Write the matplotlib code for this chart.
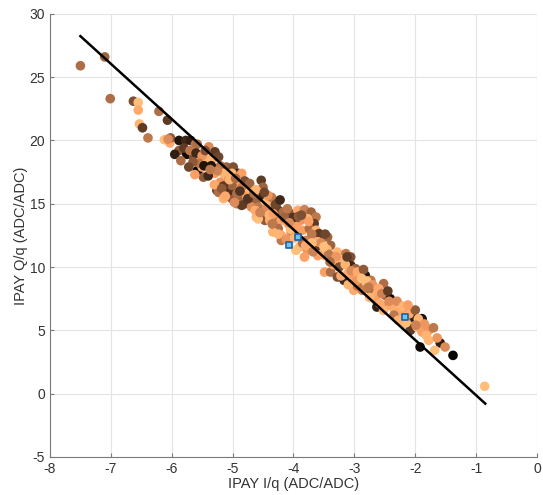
import matplotlib
matplotlib.use('Agg')
from matplotlib import pyplot as plt

plt.rcParams['font.family'] = ['Liberation Sans', 'DejaVu Sans']
plt.rcParams['axes.unicode_minus'] = False

# Puntos medidos: I/q, Q/q y valor de color (mapa copper)
pts_i = [
    -7.50, -7.10, -7.01, -6.63, -6.55, -6.55, -6.53, -6.48, -6.39, -6.21,
    -6.07, -6.12, -6.03, -6.02, -5.88, -5.77, -5.69, -5.88, -5.75, -5.64,
    -5.58, -5.61, -6.06, -5.58, -5.39, -5.29, -5.75, -5.64, -5.53, -5.42,
    -5.34, -5.23, -5.20, -5.10, -4.99, -5.57, -5.50, -5.48, -5.29, -5.15,
    -5.07, -5.20, -5.26, -5.23, -5.10, -4.99, -5.15, -5.01, -4.93, -4.91,
    -4.53, -4.50, -4.58, -4.69, -4.61, -4.50, -4.44, -4.36, -4.28, -4.74,
    -4.80, -4.69, -4.58, -4.61, -4.47, -4.39, -4.28, -4.91, -4.93, -5.04,
    -5.01, -4.85, -5.01, -4.93, -4.85, -4.77, -4.42, -4.63, -4.53, -4.36,
    -4.25, -4.17, -4.58, -4.31, -4.20, -4.04, -3.93, -3.82, -3.71, -3.63,
    -3.66, -3.77, -3.88, -3.98, -4.09, -4.25, -4.34, -4.20, -4.04, -3.85,
    -3.74, -3.63, -3.55, -3.66, -3.79, -3.90, -3.77, -3.63, -3.52, -3.96,
    -3.82, -4.20, -3.58, -3.39, -3.28, -3.14, -3.06, -3.49, -3.36, -3.20,
    -3.06, -2.98, -3.49, -3.39, -3.28, -3.17, -3.11, -3.01, -2.90, -2.82,
    -2.73, -2.84, -2.92, -2.52, -3.01, -2.87, -2.73, -2.63, -2.49, -2.41,
    -2.65, -2.63, -2.46, -2.35, -2.27, -2.16, -2.06, -1.89, -2.03, -1.78,
    -2.08, -2.52, -3.44, -3.58, -2.06, -1.89, -2.08, -1.97, -1.89, -1.78,
    -1.78, -1.59, -1.51, -1.68, -1.92, -1.38, -0.86, -2.25, -2.19,
    -5.80, -5.70, -5.60, -5.50, -5.45, -5.35, -5.25, -5.15, -5.05, -4.95,
    -5.40, -5.55, -5.65, -5.30, -4.85, -4.80, -4.70, -4.75, -4.65,
    -4.45, -4.40, -4.30, -4.15, -4.10, -4.05, -4.00, -3.95, -4.35, -4.25,
    -4.12, -3.92, -3.75, -3.70, -3.60, -3.55, -3.48, -3.45, -3.42, -3.70,
    -3.85, -3.60, -3.30, -3.35, -3.25, -3.15, -3.05, -2.95, -2.85, -2.80,
    -2.70, -2.95, -3.10, -2.60, -2.55, -2.75, -2.45, -2.40, -2.30, -2.20,
    -2.35, -2.10, -2.00, -1.95, -1.85, -2.15, -1.70,
    -5.95, -5.85, -5.72, -5.62, -5.47, -5.37, -5.18, -5.12, -4.97, -4.88,
    -4.72, -4.62, -4.55, -4.48, -4.33, -4.22, -4.07, -3.98, -3.87, -3.80,
    -3.68, -3.50, -3.40, -3.22, -3.12, -2.97, -2.88, -2.77, -2.58, -2.43,
    -2.28, -2.12, -1.99, -1.82, -1.64,
]
pts_q = [
    25.9, 26.6, 23.3, 23.1, 23.0, 22.4, 21.3, 21.0, 20.2, 22.3,
    21.6, 20.06, 19.8, 20.2, 20.0, 20.0, 20.0, 19.2, 18.9, 18.8,
    17.6, 19.7, 20.1, 19.7, 19.5, 19.1, 18.96, 18.7, 18.56, 18.5,
    18.5, 18.7, 18.0, 17.9, 17.9, 17.6, 17.9, 17.1, 17.4, 17.4,
    16.85, 16.7, 16.06, 15.9, 15.9, 15.9, 15.4, 15.4, 16.45, 17.4,
    16.85, 16.3, 15.9, 15.66, 15.27, 15.66, 15.13, 15.5, 15.0, 15.27,
    15.0, 14.74, 14.74, 13.95, 13.69, 13.69, 13.3, 15.4, 15.0, 16.06,
    17.4, 17.4, 16.45, 15.8, 14.87, 15.66, 15.66, 14.48, 14.34, 14.34,
    14.48, 14.34, 13.8, 13.69, 13.69, 14.2, 14.48, 14.53, 14.34, 13.95,
    13.43, 13.82, 13.69, 13.69, 13.43, 13.03, 12.77, 12.5, 12.77, 12.9,
    13.03, 12.9, 12.37, 12.24, 12.1, 11.58, 11.32, 11.58, 11.32, 11.32,
    10.79, 12.1, 11.71, 11.71, 11.18, 11.06, 10.79, 10.92, 10.66, 10.53,
    10.13, 9.87, 9.6, 9.6, 9.21, 8.95, 9.48, 9.21, 9.34, 9.34,
    8.95, 8.69, 8.81, 8.69, 8.16, 8.16, 8.16, 7.9, 7.76, 7.5,
    7.37, 6.84, 6.97, 6.71, 6.45, 6.58, 6.05, 5.92, 5.66, 5.13,
    5.13, 6.58, 12.37, 12.64, 6.05, 5.84, 5.0, 5.26, 4.87, 5.0,
    4.21, 4.0, 3.68, 3.42, 3.68, 3.02, 0.58, 6.45, 5.53,
    19.4, 19.2, 19.0, 18.8, 19.2, 18.0, 17.6, 16.4, 16.9, 17.0,
    17.2, 18.2, 18.3, 16.5, 16.3, 16.8, 16.0, 15.4, 15.8,
    14.6, 14.1, 14.9, 13.9, 14.6, 13.0, 13.9, 13.2, 13.4, 12.6,
    12.2, 14.0, 13.6, 12.6, 12.0, 11.9, 12.6, 11.4, 11.0, 11.9,
    11.9, 10.9, 10.8, 10.2, 10.0, 10.2, 9.7, 9.6, 9.8, 8.9,
    8.6, 8.5, 8.6, 8.3, 7.9, 7.6, 8.1, 7.0, 7.3, 6.9,
    6.2, 6.3, 6.6, 5.9, 5.5, 5.6, 5.2,
    18.9, 18.4, 17.9, 17.3, 18.0, 17.7, 16.2, 15.6, 15.1, 16.0,
    16.6, 16.1, 14.3, 15.9, 14.2, 15.3, 13.5, 12.3, 14.1, 11.7,
    11.2, 11.6, 10.4, 9.3, 10.8, 8.9, 9.1, 8.4, 7.1, 7.3,
    5.8, 7.0, 5.4, 4.6, 4.4,
]
pts_c = [
    0.55, 0.50, 0.55, 0.40, 0.95, 0.85, 0.90, 0.30, 0.60, 0.55,
    0.30, 0.95, 0.85, 0.45, 0.10, 0.20, 0.15, 0.45, 0.10, 0.50,
    0.05, 0.60, 0.70, 0.55, 0.70, 0.30, 0.05, 0.40, 0.85, 0.90,
    0.90, 0.35, 0.60, 0.50, 0.40, 0.00, 0.85, 0.45, 0.80, 0.90,
    0.70, 0.75, 0.35, 0.55, 0.10, 0.30, 0.90, 0.45, 0.85, 0.20,
    0.30, 0.50, 0.85, 0.75, 0.50, 0.20, 0.90, 0.60, 0.40, 0.40,
    0.30, 0.70, 0.60, 0.90, 0.45, 0.85, 0.55, 0.50, 0.60, 0.25,
    0.90, 0.80, 0.50, 0.55, 0.30, 0.80, 0.75, 0.85, 0.50, 0.70,
    0.30, 0.55, 0.95, 0.60, 0.80, 0.40, 0.85, 0.65, 0.50, 0.60,
    0.30, 0.90, 0.75, 0.35, 0.85, 0.55, 0.90, 0.85, 0.70, 0.80,
    0.55, 0.90, 0.50, 0.85, 0.65, 0.90, 0.75, 0.45, 0.85, 0.95,
    0.80, 0.60, 0.30, 0.50, 0.90, 0.60, 0.40, 0.85, 0.75, 0.90,
    0.20, 0.50, 0.80, 0.55, 0.40, 0.20, 0.85, 0.80, 0.70, 0.10,
    0.60, 0.85, 0.90, 0.55, 0.85, 0.65, 0.50, 0.85, 0.50, 0.05,
    0.80, 0.15, 0.70, 0.90, 0.85, 0.55, 0.30, 0.05, 0.80, 0.85,
    0.30, 0.90, 0.50, 0.30, 0.15, 0.10, 0.30, 0.90, 0.80, 0.75,
    0.90, 0.15, 0.70, 0.95, 0.05, 0.02, 0.95, 0.85, 0.90,
    0.30, 0.60, 0.20, 0.75, 0.40, 0.10, 0.65, 0.30, 0.90, 0.55,
    0.20, 0.60, 0.45, 0.85, 0.65, 0.40, 0.90, 0.25, 0.55,
    0.70, 0.90, 0.35, 0.50, 0.60, 0.95, 0.25, 0.80, 0.60, 0.90,
    0.75, 0.45, 0.80, 0.60, 0.85, 0.70, 0.35, 0.90, 0.60, 0.95,
    0.55, 0.80, 0.75, 0.85, 0.40, 0.90, 0.70, 0.85, 0.45, 0.95,
    0.75, 0.60, 0.90, 0.85, 0.65, 0.90, 0.30, 0.85, 0.70, 0.90,
    0.60, 0.85, 0.45, 0.90, 0.75, 0.95, 0.60,
    0.15, 0.55, 0.35, 0.80, 0.10, 0.60, 0.45, 0.85, 0.70, 0.25,
    0.50, 0.90, 0.65, 0.35, 0.80, 0.20, 0.70, 0.90, 0.40, 0.85,
    0.65, 0.95, 0.55, 0.85, 0.30, 0.75, 0.95, 0.60, 0.85, 0.70,
    0.90, 0.80, 0.65, 0.90, 0.75,
]

# Recta de ajuste
fit_i = [-7.50, -0.85]
fit_q = [28.24, -0.79]

# Puntos de referencia (cuadrados azules)
ref_i = [-3.92, -4.07, -2.17]
ref_q = [12.35, 11.71, 6.05]

fig = plt.figure(figsize=(5.43, 4.95), dpi=100)
ax = fig.add_axes([0.092, 0.077, 0.897, 0.895])

ax.scatter(pts_i, pts_q, c=pts_c, cmap='copper', vmin=0, vmax=1, s=48,
           edgecolors='none', zorder=2)
ax.plot(fit_i, fit_q, color='black', linewidth=1.8, zorder=3)
ax.scatter(ref_i, ref_q, marker='s', s=22, facecolors='#6cc6ee',
           edgecolors='#1f5fa8', linewidths=1.2, zorder=4)

ax.set_xlim(-8, 0)
ax.set_ylim(-5, 30)
ax.set_xticks(range(-8, 1))
ax.set_yticks(range(-5, 31, 5))
ax.grid(True, color='#e4e4e4', linewidth=0.8)
ax.set_axisbelow(True)

for side in ['top', 'right']:
    ax.spines[side].set_visible(False)
for side in ['left', 'bottom']:
    ax.spines[side].set_color('#7a7a7a')
    ax.spines[side].set_linewidth(0.8)

ax.tick_params(direction='in', length=3, color='#7a7a7a', labelcolor='#333333',
               labelsize=10)
ax.set_xlabel('IPAY I/q (ADC/ADC)', fontsize=10.5, color='#333333', labelpad=1)
ax.set_ylabel('IPAY Q/q (ADC/ADC)', fontsize=10.5, color='#333333', labelpad=1)

plt.savefig('out.png', dpi=100)
plt.close()
